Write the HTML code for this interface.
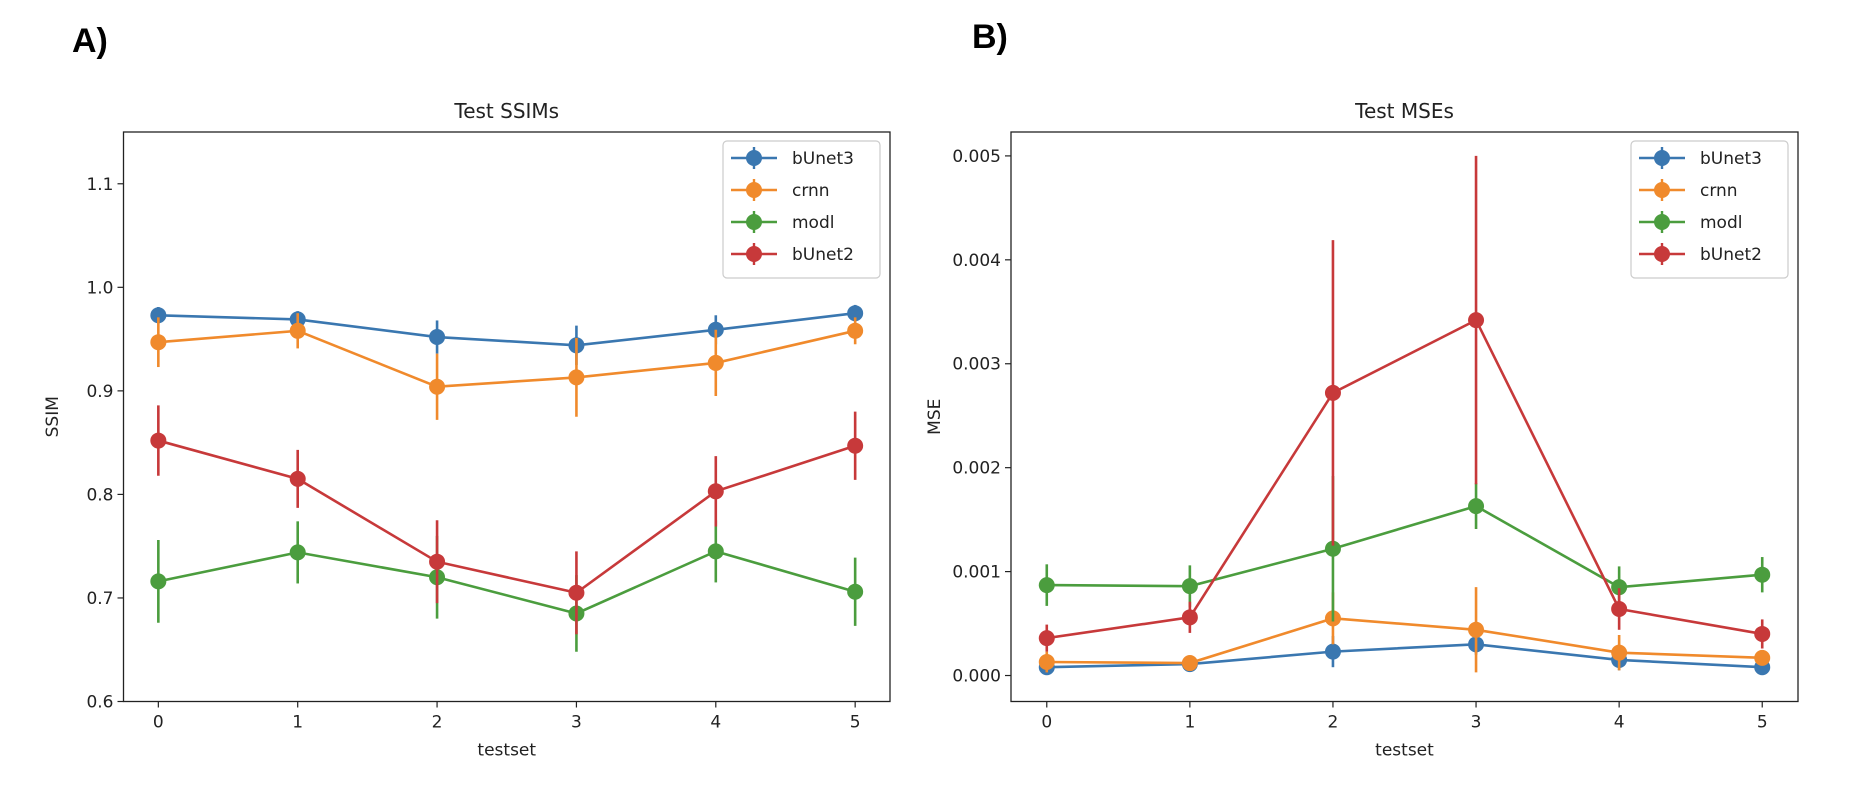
<!DOCTYPE html>
<html><head><meta charset="utf-8"><style>
body{margin:0;background:#fff;}
svg text{font-family:"DejaVu Sans","Liberation Sans",sans-serif;fill:#222;}
</style></head><body>
<svg id="fig" width="1852" height="796" xmlns="http://www.w3.org/2000/svg">
<text x="72" y="52" style="font-family:'Liberation Sans',sans-serif;font-weight:bold;font-size:34px;fill:#000">A)</text>
<text x="972" y="48" style="font-family:'Liberation Sans',sans-serif;font-weight:bold;font-size:34px;fill:#000">B)</text>
</svg>
<script>
const categories=[0,1,2,3,4,5];
const seriesNames=["bUnet3","crnn","modl","bUnet2"];
const colors=["#3a77b0","#f08a2c","#4b9d3e","#c7393a"];
const ssimB3=[0.973,0.969,0.952,0.944,0.959,0.975];
const ssimCr=[0.947,0.958,0.904,0.913,0.927,0.958];
const ssimMo=[0.716,0.744,0.720,0.685,0.745,0.706];
const ssimB2=[0.852,0.815,0.735,0.705,0.803,0.847];
const ssimErrB3=[0.008,0.008,0.016,0.019,0.014,0.008];
const ssimErrCr=[0.024,0.017,0.032,0.038,0.032,0.013];
const ssimErrMo=[0.040,0.030,0.040,0.037,0.030,0.033];
const ssimErrB2=[0.034,0.028,0.040,0.040,0.034,0.033];
const mseB3=[0.00008,0.00011,0.00023,0.00030,0.00015,0.00008];
const mseCr=[0.00013,0.00012,0.00055,0.00044,0.00022,0.00017];
const mseMo=[0.00087,0.00086,0.00122,0.00163,0.00085,0.00097];
const mseB2=[0.00036,0.00056,0.00272,0.00342,0.00064,0.00040];
const mseErrB3=[0.00003,0.00002,0.00015,0.00010,0.00010,0.00003];
const mseErrCr=[0.00010,0.00005,0.00025,0.00041,0.00017,0.00005];
const mseErrMo=[0.00020,0.00020,0.00070,0.00022,0.00020,0.00017];
const mseErrB2=[0.00013,0.00015,0.00147,0.00158,0.00020,0.00014];
const ssimTicks=[0.6,0.7,0.8,0.9,1.0,1.1];
const ssimTickLabels=["0.6","0.7","0.8","0.9","1.0","1.1"];
const mseTicks=[0,0.001,0.002,0.003,0.004,0.005];
const mseTickLabels=["0.000","0.001","0.002","0.003","0.004","0.005"];

const NS="http://www.w3.org/2000/svg";
const svg=document.getElementById('fig');
function mk(tag,attrs,parent){const e=document.createElementNS(NS,tag);for(const k in attrs)e.setAttribute(k,attrs[k]);(parent||svg).appendChild(e);return e;}

function panel(cfg){
  const g=mk('g',{});
  
  
  const L=cfg.left,R=cfg.right,T=132,B=701.5;
  const xs=v=>L+(v+0.25)/5.5*(R-L);
  const ys=v=>B-(v-cfg.ymin)/(cfg.ymax-cfg.ymin)*(B-T);
  const t=mk('text',{x:(L+R)/2,y:T-14,'text-anchor':'middle','font-size':'20'},g);t.textContent=cfg.title;
  
  
  cfg.ticks.forEach((v,i)=>{
    mk('line',{x1:L-6,x2:L,y1:ys(v),y2:ys(v),stroke:'#222','stroke-width':1.2},g);
    const tx=mk('text',{x:L-10,y:ys(v)+6,'text-anchor':'end','font-size':'17'},g);tx.textContent=cfg.tickLabels[i];
    
    
  });
  categories.forEach(c=>{
    mk('line',{x1:xs(c),x2:xs(c),y1:B,y2:B+6,stroke:'#222','stroke-width':1.2},g);
    const tx=mk('text',{x:xs(c),y:B+26,'text-anchor':'middle','font-size':'17'},g);tx.textContent=String(c);
    
    
  });
  const xl=mk('text',{x:(L+R)/2,y:B+54,'text-anchor':'middle','font-size':'17'},g);xl.textContent='testset';
  
  
  const yl=mk('text',{x:0,y:0,'text-anchor':'middle','font-size':'17',transform:`translate(${cfg.ylabX},${(T+B)/2}) rotate(-90)`},g);yl.textContent=cfg.ylabel;
  
  
  cfg.series.forEach((vals,si)=>{
    const sg=mk('g',{},g);
    
    
    const pts=vals.map((v,i)=>xs(categories[i])+','+ys(v)).join(' ');
    mk('polyline',{points:pts,fill:'none',stroke:colors[si],'stroke-width':2.6},sg);
    vals.forEach((v,i)=>{
      const e=cfg.errs[si][i];
      const el=mk('line',{x1:xs(categories[i]),x2:xs(categories[i]),y1:ys(v-e),y2:ys(v+e),stroke:colors[si],'stroke-width':2.6},sg);
      
      
      const p=mk('circle',{cx:xs(categories[i]),cy:ys(v),r:8,fill:colors[si]},sg);
      
      
    });
  });
  mk('rect',{x:L,y:T,width:R-L,height:B-T,fill:'none',stroke:'#222','stroke-width':1.3},g);
  const lg=mk('g',{},g);
  
  
  mk('rect',{x:R-167,y:141,width:157,height:137,rx:4,fill:'#fff',stroke:'#ccc','stroke-width':1.2},lg);
  seriesNames.forEach((n,si)=>{
    const y=158+si*32;
    const eg=mk('g',{},lg);
    
    
    mk('line',{x1:R-159,x2:R-113,y1:y,y2:y,stroke:colors[si],'stroke-width':2.6},eg);
    mk('line',{x1:R-136,x2:R-136,y1:y-11,y2:y+11,stroke:colors[si],'stroke-width':2.4},eg);
    mk('circle',{cx:R-136,cy:y,r:8,fill:colors[si]},eg);
    const tx=mk('text',{x:R-98,y:y+6,'font-size':'17'},eg);tx.textContent=n;
  });
}
panel({name:'ssim-chart',left:123.5,right:890,ymin:0.6,ymax:1.15,title:'Test SSIMs',ylabel:'SSIM',ylabX:58,
  ticks:ssimTicks,tickLabels:ssimTickLabels,series:[ssimB3,ssimCr,ssimMo,ssimB2],errs:[ssimErrB3,ssimErrCr,ssimErrMo,ssimErrB2]});
panel({name:'mse-chart',left:1011,right:1798,ymin:-0.00025,ymax:0.00523,title:'Test MSEs',ylabel:'MSE',ylabX:940,
  ticks:mseTicks,tickLabels:mseTickLabels,series:[mseB3,mseCr,mseMo,mseB2],errs:[mseErrB3,mseErrCr,mseErrMo,mseErrB2]});
</script>
</body></html>
